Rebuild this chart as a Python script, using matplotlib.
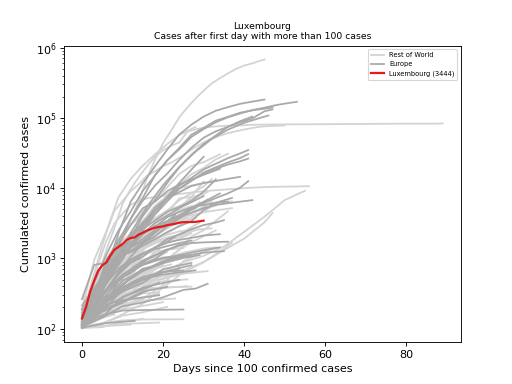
import matplotlib
matplotlib.use('Agg')
import matplotlib.pyplot as plt
from matplotlib.lines import Line2D

# ---------------- data: (days since 100 cases, cumulated cases) ----------------
LUX_DAYS = list(range(31))
LUXEMBOURG = [140, 203, 335, 484, 670, 798, 875, 1099, 1333, 1453, 1605, 1831, 1950, 1988,
              2178, 2319, 2487, 2612, 2729, 2804, 2843, 2970, 3034, 3115, 3223, 3270, 3281,
              3292, 3307, 3373, 3444]

# Rest of World
US = [(0, 118), (2, 217), (4, 402), (6, 583), (8, 1281), (10, 2179), (12, 3499), (14, 6421),
      (16, 13680), (18, 25493), (20, 43667), (22, 65778), (24, 101657), (26, 140886),
      (28, 188172), (30, 243762), (32, 308853), (34, 366667), (36, 429052), (38, 496535),
      (40, 555313), (42, 595000), (44, 650000), (45, 676000)]
CHINA = [(0, 121), (2, 278), (4, 571), (6, 1320), (8, 2744), (10, 5974), (12, 9692), (14, 14380),
         (16, 20438), (18, 28018), (20, 34546), (22, 40171), (24, 44653), (26, 63851),
         (28, 68500), (30, 72436), (32, 74576), (35, 76936), (39, 78190), (43, 79968),
         (50, 80735), (57, 81003), (67, 81661), (78, 82602), (88, 82700), (89, 83403)]
IRAN = [(0, 139), (2, 388), (4, 978), (6, 2336), (8, 4747), (10, 6566), (12, 9000), (14, 11364),
        (16, 14991), (18, 17361), (20, 20610), (22, 23049), (24, 27017), (26, 32332),
        (28, 38309), (30, 44605), (32, 50468), (34, 55743), (36, 60500), (38, 64586),
        (40, 68192), (42, 71686), (44, 74877), (46, 76389), (50, 77995)]
TURKEY = [(0, 191), (3, 947), (6, 2433), (9, 7402), (12, 13531), (15, 20921), (18, 30217),
          (21, 42282), (24, 56956), (28, 74193)]
KOREA = [(0, 104), (2, 346), (4, 833), (6, 1766), (8, 3150), (10, 4335), (12, 5766), (14, 6593),
         (16, 7134), (18, 7478), (20, 7755), (24, 8236), (28, 8799), (32, 9241), (36, 9583),
         (40, 9976), (44, 10284), (48, 10450), (52, 10537), (56, 10635)]
JAPAN = [(0, 105), (5, 164), (10, 254), (15, 461), (20, 639), (25, 878), (30, 1086), (35, 1468),
         (40, 2384), (45, 3906), (50, 6748), (55, 9167)]
SINGAPORE = [(0, 102), (5, 117), (10, 160), (15, 226), (20, 385), (25, 631), (30, 879),
             (35, 1309), (40, 1910), (45, 3252), (47, 4427)]
CANADA = [(0, 108), (3, 198), (6, 424), (9, 943), (12, 2088), (15, 3409), (18, 5655), (21, 7708),
          (24, 11284), (27, 15756), (30, 19289), (33, 25680), (36, 30809)]
BRAZIL = [(0, 151), (3, 321), (6, 904), (9, 1924), (12, 2985), (15, 4256), (18, 6836),
          (21, 10278), (24, 15927), (27, 20727), (30, 23430), (33, 28320), (34, 30425)]
ISRAEL = [(0, 143), (3, 304), (6, 705), (9, 1656), (12, 3035), (15, 4695), (18, 6857), (21, 8430),
          (24, 9968), (27, 10878), (30, 11868), (33, 12591)]
INDIA = [(0, 113), (3, 194), (6, 396), (9, 657), (12, 1024), (15, 1998), (18, 3082), (21, 4778),
         (24, 6725), (27, 8446), (30, 10541), (32, 13430)]
PERU = [(0, 117), (3, 263), (6, 416), (9, 671), (12, 950), (15, 1323), (18, 2281), (21, 2954),
        (24, 5256), (27, 7519), (30, 12491)]
CHILE = [(0, 155), (3, 342), (6, 632), (9, 1142), (12, 1909), (15, 2738), (18, 3737), (21, 4815),
         (24, 5546), (27, 6927), (30, 8273), (31, 8807)]
ECUADOR = [(0, 155), (3, 426), (6, 981), (9, 1595), (12, 2240), (15, 3163), (18, 3646),
           (21, 4450), (24, 7161), (27, 7466), (30, 8225)]
SAUDI = [(0, 103), (3, 238), (6, 392), (9, 767), (12, 1203), (15, 1720), (18, 2179), (21, 2795),
         (24, 3651), (27, 4462), (30, 5369), (32, 6380)]
PAKISTAN = [(0, 187), (3, 454), (6, 776), (9, 1179), (12, 1625), (15, 2118), (18, 2708),
            (21, 3864), (24, 4601), (27, 5374), (30, 6383), (31, 6919)]
MEXICO = [(0, 118), (3, 251), (6, 405), (9, 717), (12, 1094), (15, 1510), (18, 2143), (21, 3181),
          (24, 4219), (27, 5014), (29, 6297)]
AUSTRALIA = [(0, 107), (3, 197), (6, 297), (9, 568), (12, 1072), (15, 2136), (18, 3143),
             (21, 4163), (24, 4862), (27, 5550), (30, 5956), (33, 6238), (37, 6462)]
PHILIPPINES = [(0, 111), (3, 187), (6, 307), (9, 462), (12, 707), (15, 1418), (18, 2633),
               (21, 3246), (24, 3870), (27, 4428), (30, 5000), (33, 5660)]
INDONESIA = [(0, 117), (3, 227), (6, 450), (9, 685), (12, 1046), (15, 1414), (18, 1790),
             (21, 2273), (24, 2956), (27, 3842), (30, 4557), (32, 5516)]
UAE = [(0, 113), (3, 198), (6, 333), (9, 570), (12, 814), (15, 1264), (18, 2076), (21, 2659),
       (24, 3360), (27, 4521), (29, 5825)]
MALAYSIA = [(0, 129), (3, 197), (6, 553), (9, 900), (12, 1518), (15, 2161), (18, 2766),
            (21, 3116), (24, 3662), (27, 4119), (30, 4530), (33, 4817), (37, 5182)]
QATAR = [(0, 262), (3, 337), (6, 442), (9, 470), (12, 537), (15, 590), (18, 693), (21, 949),
         (24, 1325), (27, 2057), (30, 2512), (33, 3428), (36, 4663)]
PANAMA = [(0, 137), (3, 313), (6, 558), (9, 989), (12, 1317), (15, 1801), (18, 2249), (21, 2752),
          (24, 3234), (28, 3751)]
DOMINICAN = [(0, 112), (3, 312), (6, 719), (9, 1284), (12, 1745), (15, 1956), (18, 2620),
             (21, 3167), (24, 3286), (26, 3755)]
COLOMBIA = [(0, 102), (3, 196), (6, 306), (9, 539), (12, 702), (15, 1065), (18, 1406),
            (21, 1780), (24, 2223), (27, 2776), (29, 3233)]
THAILAND = [(0, 114), (3, 212), (6, 411), (9, 827), (12, 1136), (15, 1524), (18, 1875),
            (21, 2169), (24, 2423), (27, 2551), (30, 2613), (32, 2672)]
SOUTH_AFRICA = [(0, 116), (3, 240), (6, 554), (9, 1170), (12, 1326), (15, 1462), (18, 1686),
                (21, 1845), (24, 2003), (27, 2415), (29, 2605)]
ARGENTINA = [(0, 128), (3, 266), (6, 502), (9, 745), (12, 966), (15, 1353), (18, 1628),
             (21, 1894), (24, 2208), (27, 2571)]
EGYPT = [(0, 109), (3, 166), (6, 256), (9, 327), (12, 456), (15, 609), (18, 779), (21, 985),
         (24, 1322), (27, 1699), (30, 2065), (33, 2505)]
ALGERIA = [(0, 139), (3, 264), (6, 409), (9, 716), (12, 1171), (15, 1468), (18, 1761),
           (21, 1983), (24, 2160), (26, 2268)]
MOROCCO = [(0, 115), (3, 170), (6, 345), (9, 556), (12, 791), (15, 1184), (18, 1431),
           (21, 1661), (24, 1888), (27, 2283)]
BAHRAIN = [(0, 109), (5, 211), (10, 332), (15, 458), (20, 515), (25, 672), (30, 887),
           (35, 1361), (37, 1671)]
KUWAIT = [(0, 104), (5, 142), (10, 191), (15, 266), (20, 417), (25, 910), (30, 1234), (33, 1405)]
IRAQ = [(0, 110), (5, 164), (10, 316), (15, 630), (20, 961), (25, 1202), (30, 1378), (33, 1434)]
NEW_ZEALAND = [(0, 102), (3, 205), (6, 451), (9, 647), (12, 950), (15, 1160), (18, 1239),
               (21, 1330), (25, 1409)]
CUBA = [(0, 119), (5, 212), (10, 350), (15, 564), (20, 814)]
KAZAKHSTAN = [(0, 111), (5, 302), (10, 604), (15, 812), (21, 1232)]
UZBEKISTAN = [(0, 144), (5, 221), (10, 457), (15, 865), (19, 1349)]
BANGLADESH = [(0, 123), (3, 218), (6, 424), (8, 803), (10, 1572)]
OMAN = [(0, 109), (5, 192), (10, 371), (15, 484), (21, 1019)]
GHANA = [(0, 137), (5, 195), (10, 313), (15, 378), (20, 641)]
CAMEROON = [(0, 193), (4, 509), (8, 685), (12, 820), (16, 996)]
IVORY_COAST = [(0, 101), (5, 190), (10, 349), (15, 533), (20, 688)]
COSTA_RICA = [(0, 113), (5, 201), (10, 347), (15, 454), (20, 558), (27, 626)]
URUGUAY = [(0, 110), (5, 217), (10, 338), (15, 415), (20, 473), (26, 502)]
LEBANON = [(0, 120), (5, 206), (10, 333), (15, 446), (20, 508), (25, 609), (31, 658)]
TUNISIA = [(0, 173), (5, 312), (10, 553), (15, 643), (22, 822)]
AFGHANISTAN = [(0, 110), (5, 196), (10, 423), (15, 607), (19, 840)]
JORDAN = [(0, 112), (5, 212), (10, 278), (15, 353), (20, 381), (26, 402)]
BURKINA_FASO = [(0, 146), (5, 246), (10, 364), (15, 443), (21, 528)]
TAIWAN = [(0, 108), (5, 216), (10, 306), (15, 373), (20, 385), (27, 395)]
VIETNAM = [(0, 123), (5, 174), (10, 227), (15, 251), (23, 268)]
SRI_LANKA = [(0, 106), (5, 146), (10, 189), (15, 210), (20, 238)]
SENEGAL = [(0, 119), (5, 190), (10, 244), (15, 280), (19, 314)]
HONDURAS = [(0, 139), (5, 222), (10, 298), (17, 426)]
VENEZUELA = [(0, 107), (5, 119), (10, 153), (15, 171), (21, 204)]
BOLIVIA = [(0, 107), (5, 157), (10, 268), (17, 441)]
NIGERIA = [(0, 111), (5, 210), (10, 288), (18, 442)]
KENYA = [(0, 122), (4, 158), (8, 189), (12, 234)]
MAURITIUS = [(0, 107), (5, 186), (10, 244), (15, 318), (19, 325)]
NIGER = [(0, 120), (4, 253), (8, 491), (13, 648)]
GUINEA = [(0, 121), (4, 194), (8, 319), (11, 477)]
DRC = [(0, 109), (5, 154), (10, 215), (16, 287)]
KYRGYZSTAN = [(0, 111), (5, 228), (10, 339), (15, 466)]
DJIBOUTI = [(0, 121), (3, 150), (6, 298), (10, 732)]
PALESTINE = [(0, 116), (5, 217), (10, 263), (17, 374)]
BRUNEI = [(0, 104), (5, 120), (10, 131), (15, 135), (25, 136)]
CAMBODIA = [(0, 103), (5, 109), (10, 117), (19, 122)]
RWANDA = [(0, 102), (5, 105), (10, 126), (15, 138)]
GUATEMALA = [(0, 126), (3, 156), (7, 197)]
EL_SALVADOR = [(0, 118), (4, 137), (8, 159)]
MALI = [(0, 116), (4, 144), (7, 171)]
TRINIDAD = [(0, 103), (6, 109), (12, 114)]

# Europe
ITALY = [(0, 155), (3, 453), (6, 1128), (9, 2502), (12, 4636), (15, 9172), (18, 15113),
         (21, 24747), (24, 35713), (27, 53578), (30, 69176), (33, 86498), (36, 101739),
         (39, 115242), (42, 128948), (45, 139422), (48, 152271), (51, 162488), (53, 168941)]
SPAIN = [(0, 120), (3, 259), (6, 673), (9, 2277), (12, 6391), (15, 11748), (18, 20410),
         (21, 35136), (24, 57786), (27, 80110), (30, 104118), (33, 126168), (36, 141942),
         (39, 158273), (42, 170099), (45, 182000)]
GERMANY = [(0, 130), (3, 262), (6, 799), (9, 1457), (12, 3675), (15, 7272), (18, 15320),
           (21, 24873), (24, 37323), (27, 57695), (30, 71808), (33, 91159), (36, 103374),
           (39, 118181), (42, 127854), (45, 134753), (47, 141000)]
FRANCE = [(0, 130), (3, 285), (6, 949), (9, 1784), (12, 3661), (15, 6633), (18, 10871),
          (21, 16018), (24, 25233), (27, 37575), (30, 52128), (33, 64338), (36, 74390),
          (39, 86334), (42, 98000), (45, 124000), (47, 132000)]
UK = [(0, 115), (3, 273), (6, 459), (9, 1144), (12, 1960), (15, 4014), (18, 6726), (21, 11812),
      (24, 19780), (27, 29865), (30, 42477), (33, 55949), (36, 74605), (39, 89570), (42, 104145)]
FRANCE_ALT = [(0, 120), (4, 300), (8, 900), (12, 2300), (16, 5400), (20, 11000), (24, 20000),
              (28, 33000), (32, 50000), (36, 68000), (40, 85000), (44, 100000), (46, 108000)]
BELGIUM = [(0, 169), (3, 267), (6, 559), (9, 886), (12, 1486), (15, 2815), (18, 4269),
           (21, 7284), (24, 10836), (27, 13964), (30, 18431), (33, 22194), (36, 26667),
           (39, 31119), (41, 34809)]
NETHERLANDS = [(0, 128), (3, 265), (6, 503), (9, 804), (12, 1413), (15, 2467), (18, 4216),
               (21, 6440), (24, 9819), (27, 12667), (30, 16727), (33, 19709), (36, 23249),
               (39, 26710), (41, 30449)]
SWITZERLAND = [(0, 214), (3, 374), (6, 652), (9, 1139), (12, 2200), (15, 3028), (18, 5294),
               (21, 7245), (24, 9877), (27, 12928), (30, 15922), (33, 18827), (36, 21657),
               (39, 24051), (41, 26336)]
RUSSIA = [(0, 114), (3, 253), (6, 438), (9, 840), (12, 1534), (15, 2777), (18, 4731),
          (21, 7497), (24, 11917), (27, 18328), (30, 27938)]
PORTUGAL = [(0, 112), (3, 331), (6, 785), (9, 1600), (12, 2995), (15, 5170), (18, 6408),
            (21, 9034), (24, 11278), (27, 13141), (30, 15472), (34, 18841)]
AUSTRIA = [(0, 104), (3, 246), (6, 655), (9, 1332), (12, 2013), (15, 3244), (18, 4876),
           (21, 7029), (24, 8788), (27, 10711), (30, 11781), (33, 12639), (36, 13555),
           (39, 14476)]
IRELAND = [(0, 129), (3, 292), (6, 683), (9, 1125), (12, 1819), (15, 2615), (18, 3447),
           (21, 4604), (24, 5364), (27, 6574), (30, 8928), (33, 13271)]
SWEDEN = [(0, 161), (3, 355), (6, 687), (9, 1022), (12, 1279), (15, 1639), (18, 2046),
          (21, 2840), (24, 3700), (27, 4947), (30, 6131), (33, 7206), (36, 8419), (39, 10151),
          (41, 12540)]
NORWAY = [(0, 108), (3, 192), (6, 598), (9, 1077), (12, 1423), (15, 1746), (18, 2385),
          (21, 3084), (24, 3845), (27, 4445), (30, 5208), (33, 5755), (36, 6086), (39, 6409),
          (42, 6740)]
DENMARK = [(0, 264), (3, 804), (6, 875), (9, 1057), (12, 1225), (15, 1514), (18, 1877),
           (21, 2366), (24, 2860), (27, 3386), (30, 4875), (33, 6174), (37, 7242)]
POLAND = [(0, 103), (3, 177), (6, 355), (9, 634), (12, 1051), (15, 1638), (18, 2311),
          (21, 3383), (24, 4102), (27, 5205), (30, 6356), (34, 8379)]
ROMANIA = [(0, 184), (3, 308), (6, 576), (9, 906), (12, 1452), (15, 2245), (18, 3183),
           (21, 4057), (24, 5202), (27, 6300), (30, 7707)]
CZECHIA = [(0, 116), (3, 214), (6, 434), (9, 1047), (12, 1654), (15, 2279), (18, 2817),
           (21, 3858), (24, 4587), (27, 5312), (30, 5732), (33, 6111), (36, 6433)]
SERBIA = [(0, 135), (3, 249), (6, 457), (9, 900), (12, 1476), (15, 2200), (18, 2867),
          (21, 3380), (24, 4054), (28, 5318)]
UKRAINE = [(0, 113), (3, 310), (6, 549), (9, 987), (12, 1462), (15, 1892), (18, 2511),
           (21, 3372), (23, 4161)]
BELARUS = [(0, 152), (3, 254), (6, 562), (9, 1066), (12, 1981), (15, 2919), (17, 4204)]
FINLAND = [(0, 155), (3, 272), (6, 359), (9, 626), (12, 880), (15, 1167), (18, 1418),
           (21, 1882), (24, 2176), (27, 2605), (30, 2974), (33, 3237), (35, 3489)]
GREECE = [(0, 190), (3, 331), (6, 464), (9, 695), (12, 892), (15, 1156), (18, 1415),
          (21, 1673), (24, 1832), (27, 1955), (30, 2114), (34, 2207)]
MOLDOVA = [(0, 125), (3, 199), (6, 353), (9, 591), (12, 864), (15, 1056), (18, 1438),
           (21, 1712), (23, 2049)]
CROATIA = [(0, 105), (3, 254), (6, 442), (9, 713), (12, 963), (15, 1182), (18, 1343),
           (21, 1495), (24, 1650), (27, 1791)]
ICELAND = [(0, 103), (3, 156), (6, 250), (9, 473), (12, 648), (15, 890), (18, 1086),
           (21, 1319), (24, 1562), (27, 1648), (30, 1689), (33, 1711), (36, 1727)]
HUNGARY = [(0, 103), (3, 187), (6, 300), (9, 492), (12, 623), (15, 817), (18, 980),
           (21, 1310), (24, 1512), (26, 1652)]
ESTONIA = [(0, 115), (3, 205), (6, 283), (9, 352), (12, 538), (15, 715), (18, 779), (21, 961),
           (24, 1108), (27, 1207), (30, 1304), (34, 1434)]
SLOVENIA = [(0, 141), (3, 219), (6, 275), (9, 383), (12, 528), (15, 684), (18, 802), (21, 934),
            (24, 1059), (27, 1124), (30, 1205), (35, 1268)]
LITHUANIA = [(0, 105), (5, 299), (10, 581), (15, 843), (20, 1026), (26, 1091)]
BOSNIA = [(0, 126), (5, 323), (10, 579), (15, 804), (20, 1001), (24, 1110)]
N_MACEDONIA = [(0, 114), (5, 219), (10, 430), (15, 663), (20, 908), (27, 1117)]
ARMENIA = [(0, 115), (5, 235), (10, 482), (15, 663), (20, 853), (25, 1013), (29, 1111)]
AZERBAIJAN = [(0, 122), (5, 298), (10, 584), (15, 926), (21, 1340)]
SLOVAKIA = [(0, 137), (5, 216), (10, 336), (15, 450), (20, 701), (27, 863)]
BULGARIA = [(0, 127), (5, 218), (10, 359), (15, 503), (20, 635), (27, 800)]
CYPRUS = [(0, 116), (5, 179), (10, 356), (15, 494), (20, 633), (24, 715)]
LATVIA = [(0, 111), (5, 221), (10, 376), (15, 509), (20, 589), (28, 675)]
ANDORRA = [(0, 113), (5, 224), (10, 390), (15, 545), (20, 638), (25, 673)]
ALBANIA = [(0, 104), (5, 197), (10, 277), (15, 383), (20, 446), (24, 494)]
SAN_MARINO = [(0, 109), (5, 144), (10, 208), (15, 236), (20, 279), (25, 356), (28, 371),
              (31, 435)]
MALTA = [(0, 134), (5, 188), (10, 241), (15, 337), (21, 392)]
GEORGIA = [(0, 103), (5, 174), (10, 234), (16, 348)]
KOSOVO = [(0, 106), (5, 145), (10, 283), (15, 362), (19, 449)]
MONTENEGRO = [(0, 104), (5, 214), (10, 255), (15, 277), (19, 299)]
FAROE = [(0, 115), (5, 155), (10, 181), (15, 184), (25, 187)]
GIBRALTAR = [(0, 103), (6, 120), (13, 129)]

REST_OF_WORLD = [US, CHINA, IRAN, TURKEY, KOREA, JAPAN, SINGAPORE, CANADA, BRAZIL, ISRAEL, INDIA,
                 PERU, CHILE, ECUADOR, SAUDI, PAKISTAN, MEXICO, AUSTRALIA, PHILIPPINES,
                 INDONESIA, UAE, MALAYSIA, QATAR, PANAMA, DOMINICAN, COLOMBIA, THAILAND,
                 SOUTH_AFRICA, ARGENTINA, EGYPT, ALGERIA, MOROCCO, BAHRAIN, KUWAIT, IRAQ,
                 NEW_ZEALAND, CUBA, KAZAKHSTAN, UZBEKISTAN, BANGLADESH, OMAN, GHANA, CAMEROON,
                 IVORY_COAST, COSTA_RICA, URUGUAY, LEBANON, TUNISIA, AFGHANISTAN, JORDAN,
                 BURKINA_FASO, TAIWAN, VIETNAM, SRI_LANKA, SENEGAL, HONDURAS, VENEZUELA,
                 BOLIVIA, NIGERIA, KENYA, MAURITIUS, NIGER, GUINEA, DRC, KYRGYZSTAN, DJIBOUTI,
                 PALESTINE, BRUNEI, CAMBODIA, RWANDA, GUATEMALA, EL_SALVADOR, MALI, TRINIDAD]
EUROPE = [ITALY, SPAIN, GERMANY, FRANCE, UK, FRANCE_ALT, BELGIUM, NETHERLANDS,
          SWITZERLAND, RUSSIA, PORTUGAL, AUSTRIA, IRELAND, SWEDEN, NORWAY, DENMARK, POLAND,
          ROMANIA, CZECHIA, SERBIA, UKRAINE, BELARUS, FINLAND, GREECE, MOLDOVA, CROATIA,
          ICELAND, HUNGARY, ESTONIA, SLOVENIA, LITHUANIA, BOSNIA, N_MACEDONIA, ARMENIA,
          AZERBAIJAN, SLOVAKIA, BULGARIA, CYPRUS, LATVIA, ANDORRA, ALBANIA, SAN_MARINO, MALTA,
          GEORGIA, KOSOVO, MONTENEGRO, FAROE, GIBRALTAR]

LABELS = ['Rest of World', 'Europe', 'Luxembourg (3444)']

# ---------------- plot ----------------
fig = plt.figure(figsize=(6.4, 4.8), dpi=80)
ax = fig.add_subplot(111)

ROW_COLOR = 'lightgrey'
EU_COLOR = 'darkgrey'
LUX_COLOR = '#e41a1c'

for series in REST_OF_WORLD:
    ax.plot([p[0] for p in series], [p[1] for p in series], color=ROW_COLOR, lw=1.6)
for series in EUROPE:
    ax.plot([p[0] for p in series], [p[1] for p in series], color=EU_COLOR, lw=1.6)
ax.plot(LUX_DAYS, LUXEMBOURG, color=LUX_COLOR, lw=2)

ax.set_yscale('log')
ax.set_xlabel('Days since 100 confirmed cases')
ax.set_ylabel('Cumulated confirmed cases')
ax.set_title('Luxembourg\nCases after first day with more than 100 cases', fontsize=8.3)

handles = [Line2D([], [], color=ROW_COLOR, lw=1.6),
           Line2D([], [], color=EU_COLOR, lw=1.6),
           Line2D([], [], color=LUX_COLOR, lw=2)]
ax.legend(handles, LABELS, loc='upper right', fontsize=6)

fig.savefig('out.png', dpi=80)
